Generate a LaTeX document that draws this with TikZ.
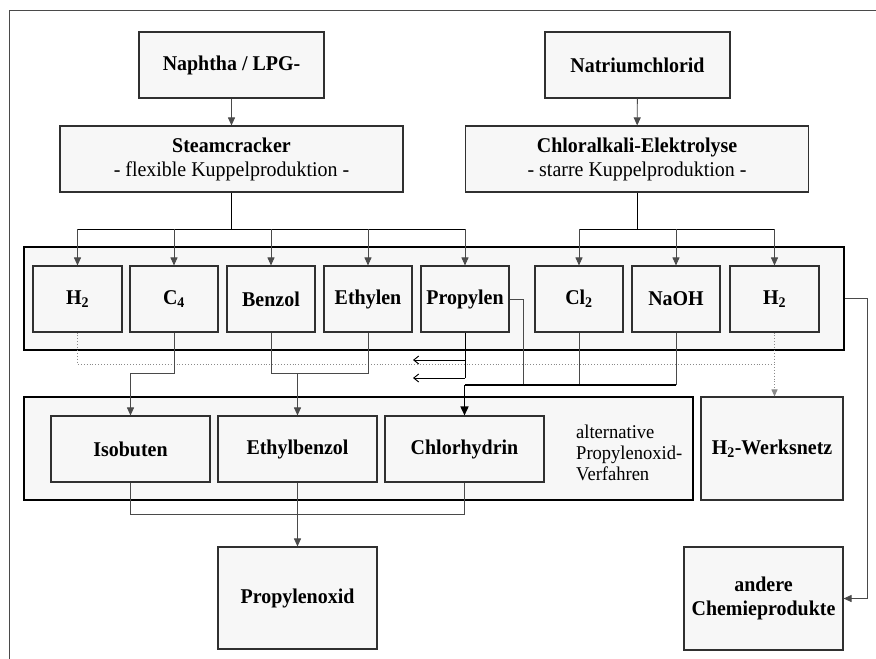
\documentclass[tikz,border=0pt]{standalone}
\usepackage{fontspec}
\setmainfont[FakeStretch=0.95]{Liberation Serif}
\usetikzlibrary{arrows.meta}
\definecolor{boxfill}{HTML}{F7F7F7}
\definecolor{edge}{HTML}{303030}
\definecolor{wire}{HTML}{4A4A4A}
\definecolor{dots}{HTML}{8A8A8A}
\begin{document}
\begin{tikzpicture}[x=1pt,y=-1pt,
  every node/.style={font=\fontsize{21}{24}\selectfont},
  box/.style={draw=edge,fill=boxfill,line width=1.1pt,inner sep=0pt,align=center,font=\fontsize{21}{24}\selectfont\bfseries},
  group/.style={draw=black,fill=boxfill,line width=1.1pt,inner sep=0pt},
  wireline/.style={draw=wire,line width=0.9pt},
  arr/.style={wireline,-{Triangle[length=8pt,width=7pt]}},
  openarr/.style={draw=black,line width=0.9pt,-{Straight Barb[length=5pt,width=8pt]}},
  heavyarr/.style={draw=black,line width=1.6pt,-{Triangle[length=9pt,width=8pt]}},
  dotline/.style={draw=dots,line width=0.9pt,dotted},
]
\useasboundingbox (0,0) rectangle (876,659);
\fill[white] (0,0) rectangle (876,659);
% outer frame (top and left edges visible)
\draw[wire,line width=1pt] (876,10) -- (9.5,10) -- (9.5,659);

% group panels
\node[group,minimum width=820pt,minimum height=103pt] (cont1) at (434,298.5) {};
\node[group,minimum width=669pt,minimum height=103pt] (cont2) at (358.5,448.5) {};

% sources and processes
\node[box,minimum width=185pt,minimum height=66pt] (naph) at (231.5,65) {Naphtha / LPG-};
\node[box,minimum width=185pt,minimum height=66pt] (nacl) at (637.5,65) {Natriumchlorid};
\node[box,minimum width=343pt,minimum height=66pt] (steam) at (231.5,159) {Steamcracker\\\mdseries - flexible Kuppelproduktion -};
\node[box,minimum width=343pt,minimum height=66pt] (chlor) at (637,159) {Chloralkali-Elektrolyse\\\mdseries - starre Kuppelproduktion -};

% coupled products
\node[box,minimum width=89pt,minimum height=66pt] (h2a) at (77.5,299) {H\textsubscript{2}};
\node[box,minimum width=88pt,minimum height=66pt] (c4) at (174,299) {C\textsubscript{4}};
\node[box,minimum width=88pt,minimum height=66pt] (benz) at (271,299) {Benzol};
\node[box,minimum width=88pt,minimum height=66pt] (ethy) at (368,299) {Ethylen};
\node[box,minimum width=88pt,minimum height=66pt] (prop) at (465,299) {Propylen};
\node[box,minimum width=88pt,minimum height=66pt] (cl) at (579,299) {Cl\textsubscript{2}};
\node[box,minimum width=88pt,minimum height=66pt] (naoh) at (676,299) {NaOH};
\node[box,minimum width=89pt,minimum height=66pt] (h2b) at (774.5,299) {H\textsubscript{2}};

% propylene oxide routes
\node[box,minimum width=159pt,minimum height=66pt] (iso) at (130.5,449) {Isobuten};
\node[box,minimum width=159pt,minimum height=66pt] (ebz) at (297.5,449) {Ethylbenzol};
\node[box,minimum width=159pt,minimum height=66pt] (chl) at (464.5,449) {Chlorhydrin};
\node[anchor=west,align=left,inner sep=0pt,font=\fontsize{19.5}{21}\selectfont] (alt) at (576,453) {alternative\\Propylenoxid-\\Verfahren};
\node[box,minimum width=142pt,minimum height=103pt] (werk) at (772,448.5) {H\textsubscript{2}-Werksnetz};

% end products
\node[box,minimum width=159pt,minimum height=102pt] (pox) at (297.5,598) {Propylenoxid};
\node[box,minimum width=159pt,minimum height=103pt] (andere) at (763.5,598.5) {andere\\Chemieprodukte};

% junction levels
\coordinate (sj) at (0,229);
\coordinate (dl) at (0,364);
\coordinate (m1) at (0,373);
\coordinate (m2) at (0,385);
\coordinate (m3) at (0,514);
\coordinate (pl1) at (413,360);
\coordinate (pl2) at (413,378);
\coordinate (prk) at (523,385);
\coordinate (rr) at (867,298.5);

% feeds
\draw[arr] (naph) -- (steam);
\draw[arr] (nacl) -- (chlor);

% steam cracker distribution
\draw[draw=black,line width=0.9pt] (steam.south) -- (steam.south |- sj);
\draw[draw=black,line width=0.9pt] (h2a.north |- sj) -- (prop.north |- sj);
\foreach \n in {h2a,c4,benz,ethy,prop}
  \draw[arr] (\n.north |- sj) -- (\n.north);

% electrolysis distribution
\draw[draw=black,line width=0.9pt] (chlor.south) -- (chlor.south |- sj);
\draw[draw=black,line width=0.9pt] (cl.north |- sj) -- (h2b.north |- sj);
\foreach \n in {cl,naoh,h2b}
  \draw[arr] (\n.north |- sj) -- (\n.north);

% hydrogen to the works grid
\draw[dotline] (h2a.south) |- (h2b.south |- dl);
\draw[dotline] (h2b.south) -- (h2b.south |- dl);
\draw[dotline,-{Triangle[length=7pt,width=6pt]}] (h2b.south |- dl) -- (h2b.south |- werk.north);

% C4 to isobutene route
\draw[arr] (c4.south) |- (iso.north |- m1) -- (iso.north);

% benzene and ethylene to ethylbenzene route
\draw[wireline] (benz.south) |- (ethy.south |- m1) -- (ethy.south);
\draw[arr] (ebz.north |- m1) -- (ebz.north);

% propylene to the co-product routes
\draw[draw=black,line width=0.9pt] (prop.south) -- (prop.south |- pl2);
\draw[openarr] (prop.south |- pl1) -- (pl1);
\draw[openarr] (prop.south |- pl2) -- (pl2);

% propylene, chlorine and caustic to chlorohydrin route
\draw[wireline] (prop.east) -| (prk);
\draw[wireline] (cl.south) -- (cl.south |- m2);
\draw[wireline] (naoh.south) -- (naoh.south |- m2);
\draw[draw=black,line width=1.6pt] (naoh.south |- m2) -- (chl.north |- m2);
\draw[heavyarr] (chl.north |- m2) -- (chl.north);

% routes to propylene oxide
\draw[wireline] (iso.south) |- (chl.south |- m3) -- (chl.south);
\draw[arr] (ebz.south) -- (pox.north);

% surplus to other chemicals
\draw[arr] (cont1.east) -- (rr) |- (andere.east);
\end{tikzpicture}
\end{document}
